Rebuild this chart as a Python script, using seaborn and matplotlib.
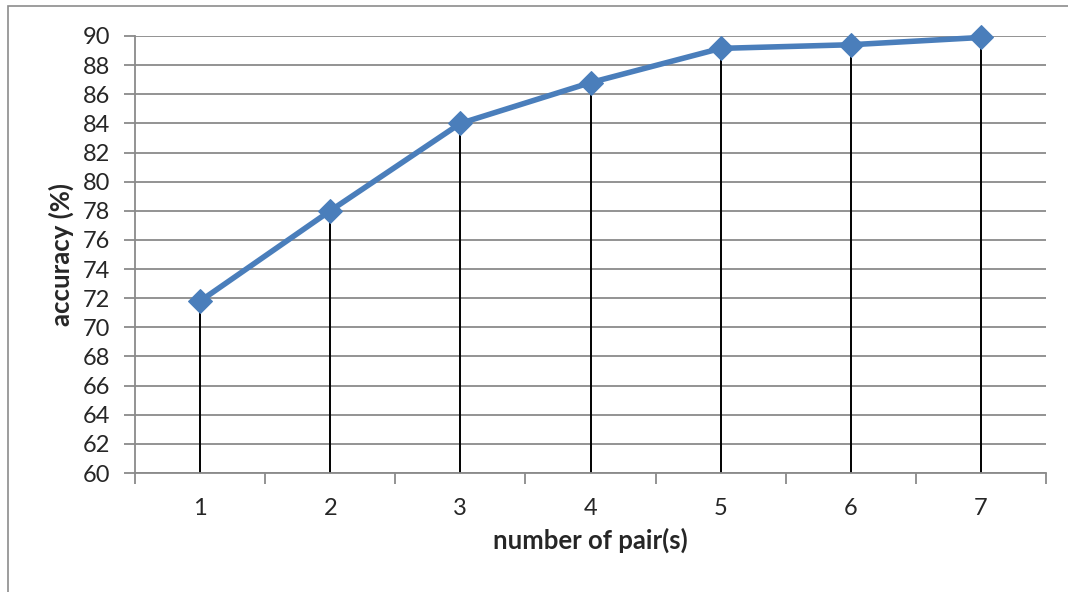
import matplotlib
matplotlib.use("Agg")
import matplotlib.pyplot as plt
import seaborn as sns
import pandas as pd
from matplotlib.patches import Rectangle

pairs = [1, 2, 3, 4, 5, 6, 7]
accuracy = [71.8, 78.0, 84.0, 86.8, 89.15, 89.4, 89.9]
yticks = list(range(60, 91, 2))

sns.set_style("white")
plt.rcParams['font.family'] = ['Lato', 'DejaVu Sans']

df = pd.DataFrame({"pairs": pairs, "accuracy": accuracy})

fig = plt.figure(figsize=(10.68, 5.92), dpi=100)
ax = fig.add_axes([135/1068, 1 - 473/592, (1046-135)/1068, (473-36)/592])

# outer chart frame
fig.patches.append(Rectangle((8/1068, -0.1), 1.2, 1 - 6/592 + 0.1, transform=fig.transFigure,
                             fill=False, edgecolor="#8c8c8c", linewidth=1.2))

ax.set_xlim(0.5, 7.5)
ax.set_ylim(60, 90)
ax.set_yticks(yticks)
ax.yaxis.grid(True, color="#8a8a8a", linewidth=1.3)
ax.set_axisbelow(True)

ax.vlines(df["pairs"], 60, df["accuracy"], colors="black", linewidth=1.4, zorder=2)
sns.lineplot(data=df, x="pairs", y="accuracy", ax=ax, color="#4A7EBB", linewidth=4,
             marker="D", markersize=12, markeredgecolor="#4A7EBB", zorder=3, clip_on=False)

for s in ["top", "right"]:
    ax.spines[s].set_visible(False)
for s in ["left", "bottom"]:
    ax.spines[s].set_color("#8a8a8a")
    ax.spines[s].set_linewidth(1.3)

ax.set_xticks(pairs)
ax.set_xticklabels([str(p) for p in pairs])
ax.set_xticks([p + 0.5 for p in [0] + pairs], minor=True)
ax.tick_params(axis="x", which="major", bottom=True, length=0, pad=18, labelsize=17)
ax.tick_params(axis="x", which="minor", bottom=True, length=8, color="#8a8a8a", width=1.3, direction="out")
ax.tick_params(axis="y", left=True, length=8, color="#8a8a8a", width=1.3, direction="out", labelsize=17, pad=10)

ax.set_xlabel("number of pair(s)", fontsize=18.5, fontweight="bold", labelpad=6)
ax.set_ylabel("accuracy (%)", fontsize=18.5, fontweight="bold", labelpad=6)

fig.savefig("out.png", dpi=100)
